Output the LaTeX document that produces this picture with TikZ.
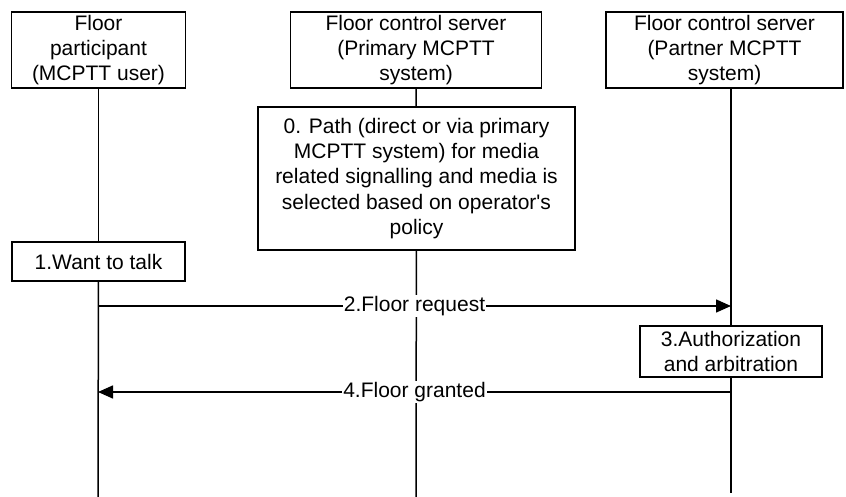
\documentclass[tikz,border=0pt]{standalone}
\usepackage{fontspec}
\setmainfont{Liberation Sans}
\usetikzlibrary{arrows.meta,positioning}
\tikzstyle{box}=[rectangle,draw,fill=white,align=center,inner sep=0pt,line width=0.75pt,font=\fontsize{10.5}{12.7}\selectfont]
\tikzstyle{life}=[line width=0.75pt]
\tikzstyle{msg}=[-{Triangle[length=7.5pt,width=6.5pt]},line width=0.75pt]
\tikzstyle{lbl}=[fill=white,inner sep=0.6pt,font=\fontsize{10.5}{12.7}\selectfont]

\begin{document}
\begin{tikzpicture}[x=0.5pt,y=-0.5pt]
\useasboundingbox (0,0) rectangle (846,497);
% entities
\node[box,minimum width=87pt,minimum height=38pt] (user) at (98.5,50) {Floor\\participant\\(MCPTT user)};
\node[box,minimum width=125.5pt,minimum height=38pt] (prim) at (416,50) {Floor control server\\(Primary MCPTT\\system)};
\node[box,minimum width=118.5pt,minimum height=38pt] (part) at (724.5,50) {Floor control server\\(Partner MCPTT\\system)};
% steps
\node[box,minimum width=158.5pt,minimum height=71.5pt] (path) at (416.5,178.5) {0. Path (direct or via primary\\MCPTT system) for media\\related signalling and media is\\selected based on operator\textquotesingle s\\policy};
\node[box,minimum width=86.5pt,minimum height=19.5pt] (talk) at (98.5,261.5) {1.Want to talk};
\node[box,minimum width=91pt,minimum height=25.5pt] (auth) at (731,351.5) {3.Authorization\\and arbitration};
% lifeline ends
\coordinate (e1) at (98,497);
\coordinate (e2) at (416,497);
\coordinate (e3) at (731,493);
\draw[life] (user) -- (talk);
\draw[life] (talk) -- (e1);
\draw[life] (prim) -- (path);
\draw[life] (path) -- (e2);
\draw[life] (part.south -| auth) -- (auth);
\draw[life] (auth) -- (e3);
% messages
\coordinate (u2) at (98,306);
\coordinate (p2) at (731,306);
\coordinate (u4) at (98,392);
\coordinate (p4) at (731,392);
\draw[msg] (u2) -- node[lbl]{2.Floor request} (p2);
\draw[msg] (p4) -- node[lbl]{4.Floor granted} (u4);
\end{tikzpicture}
\end{document}
